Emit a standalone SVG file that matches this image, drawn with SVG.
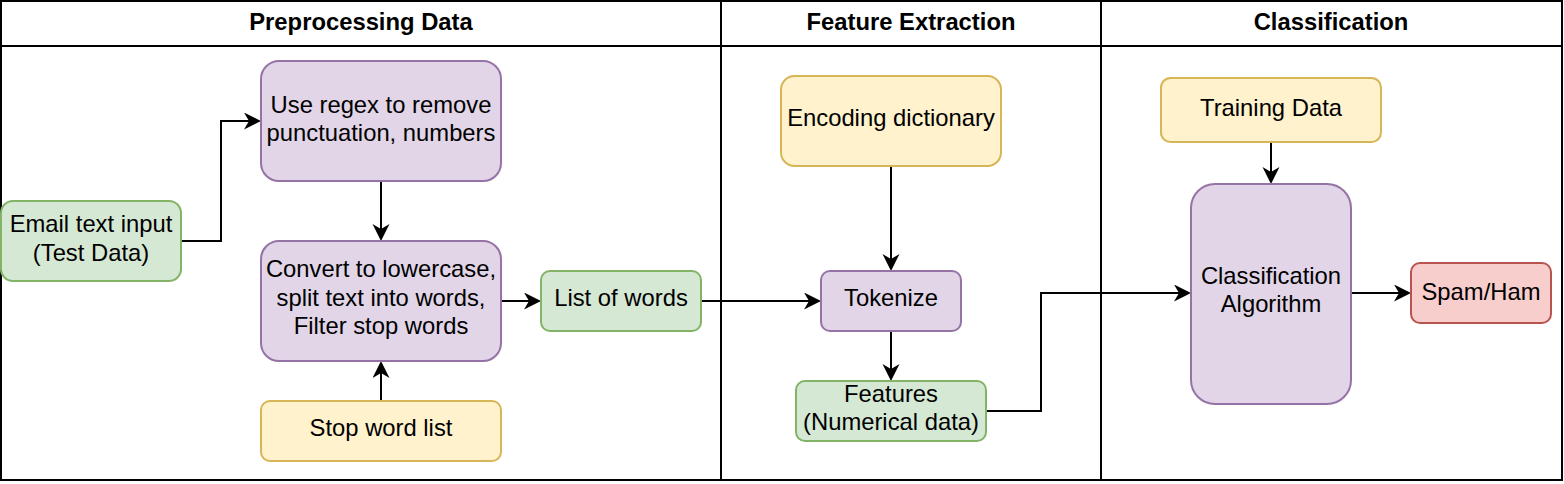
<svg xmlns="http://www.w3.org/2000/svg" width="1564" height="484" viewBox="0 0 1564 484">
<style>
text{font-family:"Liberation Sans",Arial,Helvetica,sans-serif;font-size:23.8px;fill:#000;text-anchor:middle}
.h{font-weight:bold}
.g{fill:#d5e8d4;stroke:#82b366;stroke-width:2}
.p{fill:#e1d5e7;stroke:#9673a6;stroke-width:2}
.y{fill:#fff2cc;stroke:#d6b656;stroke-width:2}
.r{fill:#f8cecc;stroke:#b85450;stroke-width:2}
.frame{fill:none;stroke:#000;stroke-width:2}
.c{fill:none;stroke:#000;stroke-width:2;marker-end:url(#arr)}
</style>
<defs>
<marker id="arr" markerUnits="userSpaceOnUse" markerWidth="18" markerHeight="18" viewBox="0 0 18 18" refX="5" refY="8.5" orient="auto">
<path d="M0,0 L17,8.5 L0,17 L5,8.5 Z" fill="#000"/>
</marker>
</defs>
<rect width="1564" height="484" fill="#fff"/>
<g id="lanes">
<rect class="frame" x="1" y="1" width="1561" height="479"/>
<line class="frame" x1="1" y1="46" x2="1562" y2="46"/>
<line class="frame" x1="721" y1="1" x2="721" y2="480"/>
<line class="frame" x1="1101" y1="1" x2="1101" y2="480"/>
<text class="h" x="361" y="30">Preprocessing Data</text>
<text class="h" x="911" y="30">Feature Extraction</text>
<text class="h" x="1331" y="30">Classification</text>
</g>
<g id="connectors">
<path class="c" d="M181,241 H221 V121 H249"/>
<path class="c" d="M381,181 V229"/>
<path class="c" d="M381,401 V373"/>
<path class="c" d="M501,301 H529"/>
<path class="c" d="M701,301 H809"/>
<path class="c" d="M891,166 V259"/>
<path class="c" d="M891,331 V369"/>
<path class="c" d="M986,411 H1041 V293 H1179"/>
<path class="c" d="M1271,142 V172"/>
<path class="c" d="M1351,293 H1399"/>
</g>
<g id="email">
<rect class="g" x="1" y="201" width="180" height="80" rx="12"/>
<text x="91" y="232">Email text input</text>
<text x="91" y="261">(Test Data)</text>
</g>
<g id="regex">
<rect class="p" x="261" y="61" width="240" height="120" rx="18"/>
<text x="381" y="112.5">Use regex to remove</text>
<text x="381" y="141">punctuation, numbers</text>
</g>
<g id="convert">
<rect class="p" x="261" y="241" width="240" height="120" rx="18"/>
<text x="381" y="277">Convert to lowercase,</text>
<text x="381" y="305.5">split text into words,</text>
<text x="381" y="334">Filter stop words</text>
</g>
<g id="stopwords">
<rect class="y" x="261" y="401" width="240" height="60" rx="9"/>
<text x="381" y="436">Stop word list</text>
</g>
<g id="listofwords">
<rect class="g" x="541" y="271" width="160" height="60" rx="9"/>
<text x="621" y="306">List of words</text>
</g>
<g id="encoding">
<rect class="y" x="781" y="76" width="220" height="90" rx="13.5"/>
<text x="891" y="126">Encoding dictionary</text>
</g>
<g id="tokenize">
<rect class="p" x="821" y="271" width="140" height="60" rx="9"/>
<text x="891" y="306">Tokenize</text>
</g>
<g id="features">
<rect class="g" x="796" y="381" width="190" height="60" rx="9"/>
<text x="891" y="401.5">Features</text>
<text x="891" y="430">(Numerical data)</text>
</g>
<g id="training">
<rect class="y" x="1161" y="78" width="220" height="64" rx="9.6"/>
<text x="1271" y="116">Training Data</text>
</g>
<g id="classifier">
<rect class="p" x="1191" y="184" width="160" height="220" rx="24"/>
<text x="1271" y="283.5">Classification</text>
<text x="1271" y="312">Algorithm</text>
</g>
<g id="spamham">
<rect class="r" x="1411" y="263" width="140" height="60" rx="9"/>
<text x="1481" y="299.5">Spam/Ham</text>
</g>
</svg>
